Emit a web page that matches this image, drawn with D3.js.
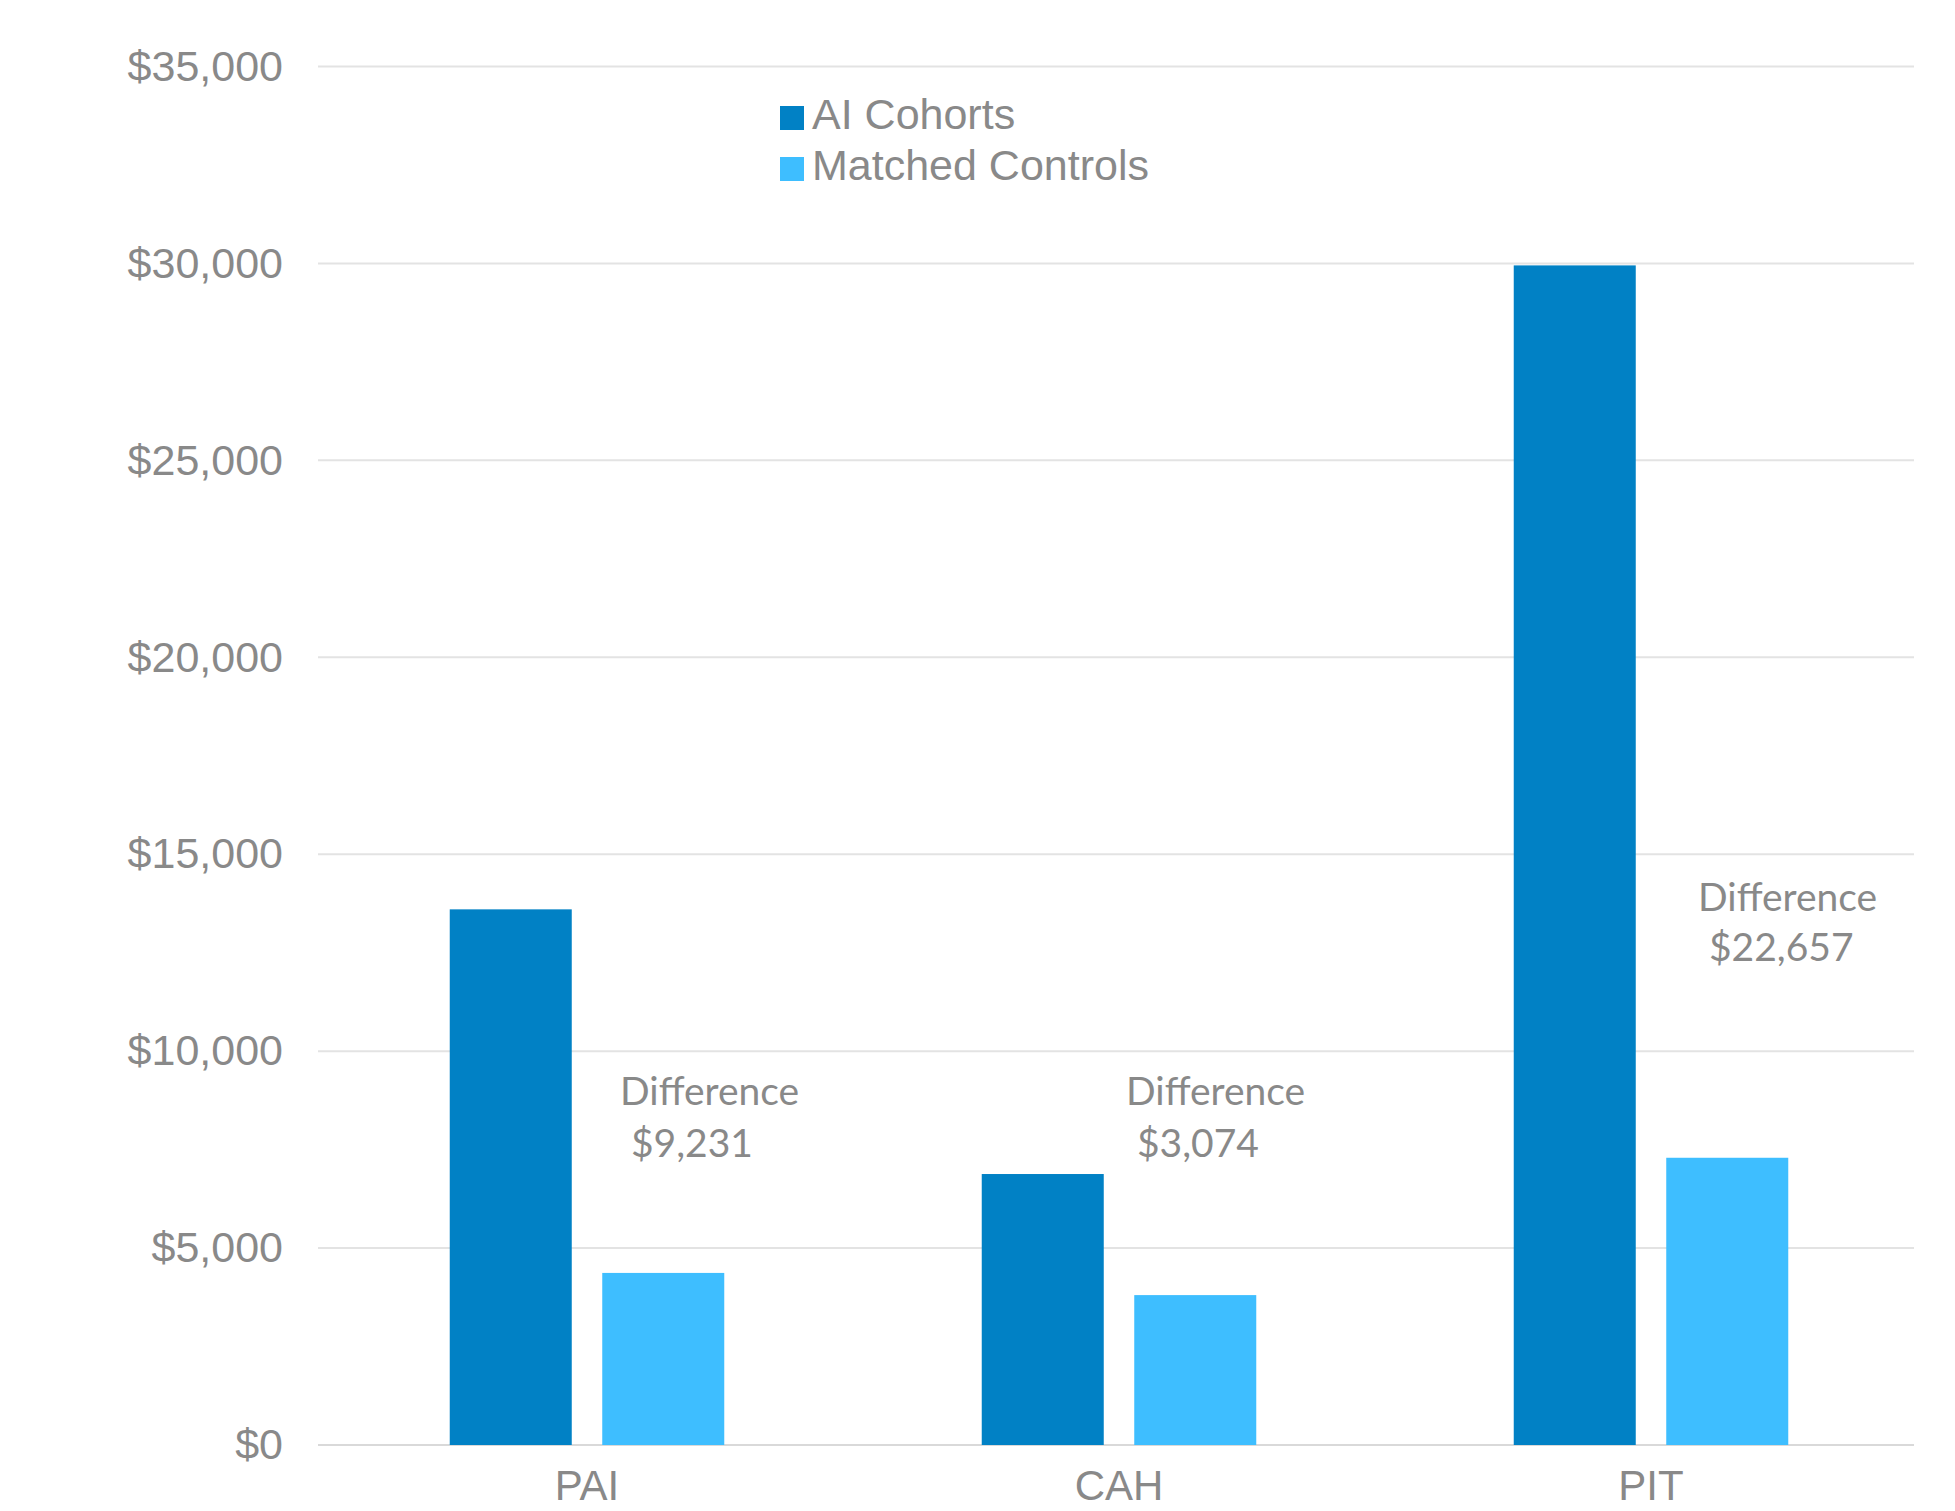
<!DOCTYPE html>
<html>
<head>
<meta charset="utf-8">
<script src="https://cdn.jsdelivr.net/npm/d3@7"></script>
<style>
  html, body { margin: 0; padding: 0; background: #ffffff; }
  svg { display: block; }
</style>
</head>
<body>
<svg id="chart" width="1955" height="1511"></svg>
<script>
// ---- data ----
const categories = ["PAI", "CAH", "PIT"];
const seriesNames = ["AI Cohorts", "Matched Controls"];
const aiCohorts = [13600, 6880, 29950];
const matchedControls = [4369, 3806, 7293];
const yTicks = [0, 5000, 10000, 15000, 20000, 25000, 30000, 35000];
const diffLabels = ["$9,231", "$3,074", "$22,657"];
const diffAnchorValues = [8630, 8630, 13550];

// ---- layout ----
const plotLeft = 318, plotRight = 1914, plotTop = 66.5, plotBottom = 1445;
const colors = ["#0181c5", "#3ebeff"];
const textGray = "#898989";

const svg = d3.select("#chart");

const y = d3.scaleLinear().domain([0, 35000]).range([plotBottom, plotTop]);
const x0 = d3.scaleBand().domain(categories).range([plotLeft + 3, plotRight + 3])
  .paddingInner(0.484).paddingOuter(0.242);
const x1 = d3.scaleBand().domain(seriesNames).range([0, x0.bandwidth()])
  .paddingInner(0.2).paddingOuter(0);
const color = d3.scaleOrdinal().domain(seriesNames).range(colors);

// gridlines
svg.append("g").selectAll("line").data(yTicks).join("line")
  .attr("x1", plotLeft).attr("x2", plotRight)
  .attr("y1", d => y(d)).attr("y2", d => y(d))
  .attr("stroke", d => d === 0 ? "#d9d9d9" : "#e3e3e3")
  .attr("stroke-width", 2);

// y axis labels
const yAxis = d3.axisLeft(y).tickValues(yTicks).tickSize(0).tickPadding(0)
  .tickFormat(d => "$" + d3.format(",")(d));
const gy = svg.append("g").attr("transform", `translate(${plotLeft - 35},0)`).call(yAxis);
gy.select(".domain").remove();
gy.selectAll("text")
  .attr("fill", textGray)
  .style("font-family", "'Liberation Sans', Arial, sans-serif")
  .style("font-size", "43px")
  .attr("dy", "0.32em");

// x axis labels
const xAxis = d3.axisBottom(x0).tickSize(0).tickPadding(0);
const gx = svg.append("g").attr("transform", `translate(0,${plotBottom})`).call(xAxis);
gx.select(".domain").remove();
gx.selectAll("text")
  .attr("fill", textGray)
  .attr("y", 55).attr("dy", 0)
  .style("font-family", "'Liberation Sans', Arial, sans-serif")
  .style("font-size", "42px");

// bars
const rows = categories.map((c, i) => ({
  cat: c,
  values: [
    { series: seriesNames[0], value: aiCohorts[i] },
    { series: seriesNames[1], value: matchedControls[i] }
  ]
}));
svg.append("g").selectAll("g").data(rows).join("g")
  .attr("transform", d => `translate(${x0(d.cat)},0)`)
  .selectAll("rect").data(d => d.values).join("rect")
  .attr("x", d => x1(d.series))
  .attr("width", x1.bandwidth())
  .attr("y", d => y(d.value))
  .attr("height", d => y(0) - y(d.value))
  .attr("fill", d => color(d.series));

// difference annotations
const annOffsets = [33, 7, 47];
const ann = svg.append("g");
categories.forEach((c, i) => {
  const ax = x0(c) + x0.bandwidth() / 2 + annOffsets[i];
  const ay = y(diffAnchorValues[i]);
  const t = ann.append("text")
    .attr("x", ax).attr("y", ay)
    .attr("fill", textGray)
    .style("font-family", "Lato, 'Open Sans', sans-serif")
    .style("font-size", "39px");
  t.append("tspan").attr("x", ax).text("Difference");
  t.append("tspan").attr("x", ax + 11).attr("dy", i === 2 ? 50 : 52).text(diffLabels[i]);
});

// legend
const legend = svg.append("g").attr("transform", "translate(780,106)");
const li = legend.selectAll("g").data(seriesNames).join("g")
  .attr("transform", (d, i) => `translate(0,${i * 51})`);
li.append("rect").attr("width", 24).attr("height", 24).attr("fill", d => color(d));
li.append("text").attr("x", 32).attr("y", 23)
  .attr("fill", textGray)
  .style("font-family", "'Liberation Sans', Arial, sans-serif")
  .style("font-size", "43px")
  .text(d => d);
</script>
</body>
</html>
